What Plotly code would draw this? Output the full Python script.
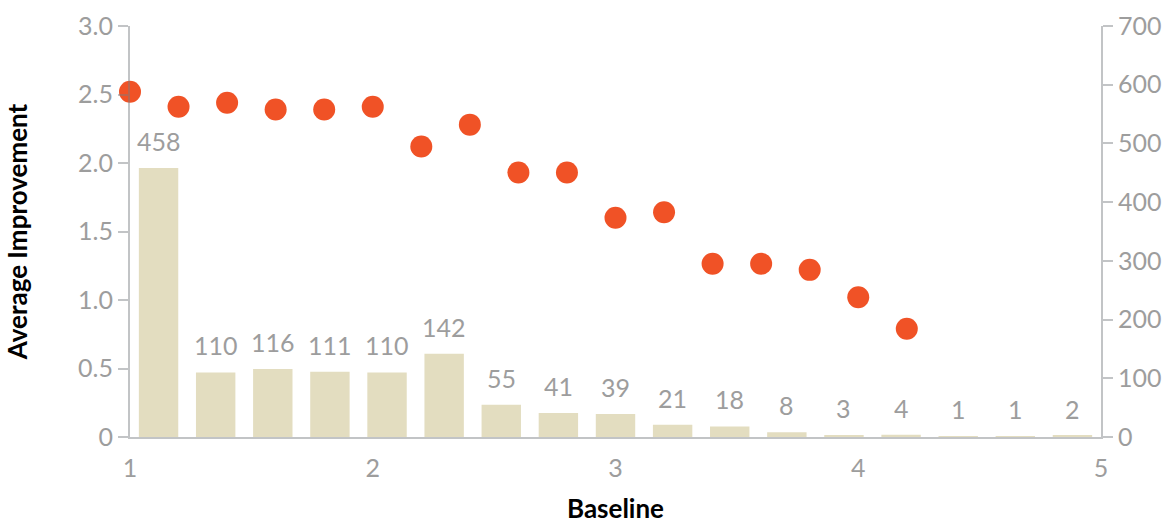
import plotly.graph_objects as go

# Dots: average improvement by baseline
baseline = [1.0, 1.2, 1.4, 1.6, 1.8, 2.0, 2.2, 2.4, 2.6, 2.8, 3.0, 3.2, 3.4, 3.6, 3.8, 4.0, 4.2]
avg_improvement = [2.52, 2.41, 2.44, 2.39, 2.39, 2.41, 2.12, 2.28, 1.93, 1.93, 1.60, 1.64, 1.265, 1.265, 1.22, 1.02, 0.79]

# Bars: counts per bin
bins = ["b%d" % i for i in range(1, 18)]
counts = [458, 110, 116, 111, 110, 142, 55, 41, 39, 21, 18, 8, 3, 4, 1, 1, 2]

x_ticks = [1, 2, 3, 4, 5]
y_ticks = [0, 0.5, 1.0, 1.5, 2.0, 2.5, 3.0]
y_ticktext = ["0", "0.5", "1.0", "1.5", "2.0", "2.5", "3.0"]
y2_ticks = [0, 100, 200, 300, 400, 500, 600, 700]

FONT = "Lato, 'Noto Sans', sans-serif"
GREY = "#9d9d9d"
LINE = "rgba(120,124,128,0.45)"
BAR = "#e3ddc0"
DOT = "#f05226"
FS = 25

fig = go.Figure()
fig.add_trace(go.Bar(x=bins, y=counts, xaxis="x2", yaxis="y2",
                     marker=dict(color=BAR, line=dict(width=0)),
                     hoverinfo="y"))
fig.add_trace(go.Scatter(x=baseline, y=avg_improvement, mode="markers",
                         marker=dict(color=DOT, size=22, line=dict(width=0)),
                         cliponaxis=False))

annotations = []
for b, c in zip(bins, counts):
    annotations.append(dict(x=b, y=c, xref="x2", yref="y2", text=str(c),
                            showarrow=False, yanchor="bottom", yshift=10,
                            font=dict(family=FONT, size=FS, color=GREY)))

fig.update_layout(
    width=1171, height=524,
    margin=dict(l=130, r=70, t=26, b=87),
    paper_bgcolor="white", plot_bgcolor="white",
    showlegend=False, bargap=0.31,
    font=dict(family=FONT, size=FS, color=GREY),
    annotations=annotations,
    xaxis=dict(range=[1, 5], tickvals=x_ticks, showgrid=False, zeroline=False,
               automargin=False,
               showline=True, linecolor=LINE, linewidth=2,
               ticks="outside", ticklen=8, tickcolor="rgba(0,0,0,0)",
               tickfont=dict(family=FONT, size=FS, color=GREY),
               title=dict(text="<b>Baseline</b>", standoff=38,
                          font=dict(family=FONT, size=26, color="black"))),
    xaxis2=dict(type="category", overlaying="x", range=[-0.5, 16.5],
                visible=False, showgrid=False, automargin=False),
    yaxis=dict(range=[0, 3], tickvals=y_ticks, ticktext=y_ticktext,
               automargin=False,
               showgrid=False, zeroline=False, showline=True, linecolor=LINE,
               linewidth=2, ticks="outside", ticklen=10, tickwidth=2,
               tickcolor=LINE, tickfont=dict(family=FONT, size=FS, color=GREY),
               title=dict(text="<b>Average Improvement</b>", standoff=43,
                          font=dict(family=FONT, size=26, color="black"))),
    yaxis2=dict(range=[0, 700], tickvals=y2_ticks, overlaying="y", side="right",
                automargin=False,
                showgrid=False, zeroline=False, showline=True, linecolor=LINE,
                linewidth=2, ticks="outside", ticklen=10, tickwidth=2,
                tickcolor=LINE, tickfont=dict(family=FONT, size=FS, color=GREY)),
)

fig.write_html("out.html", config={"displayModeBar": False},
               post_script="document.body.style.margin='0';"
                           "document.body.style.overflow='hidden';")
